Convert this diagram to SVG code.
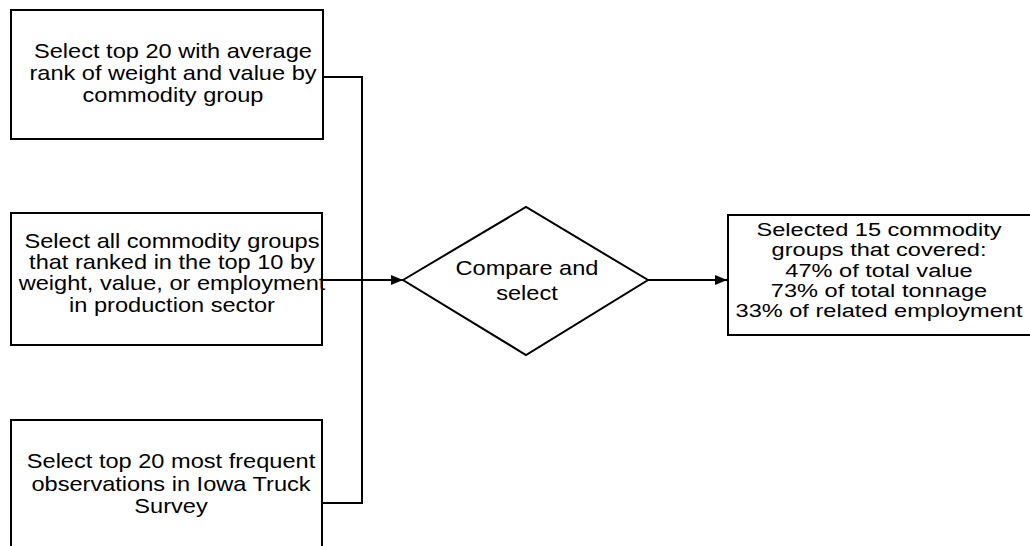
<svg xmlns="http://www.w3.org/2000/svg" width="1030" height="546" viewBox="0 0 1030 546">
<style>
.box{fill:#fff;stroke:#000;stroke-width:2}
.t{font-family:"Liberation Sans",Arial,sans-serif;font-size:20px;fill:#000;text-anchor:middle}
.s{font-size:18px}
.c{fill:none;stroke:#000;stroke-width:2}
</style>
<defs>
<marker id="ah" viewBox="0 0 12 10" refX="12" refY="5" markerWidth="12" markerHeight="10" markerUnits="userSpaceOnUse" orient="auto">
<path d="M0,0 L12,5 L0,10 Z" fill="#000"/>
</marker>
</defs>
<rect width="1030" height="546" fill="#fff"/>
<g id="connectors">
<polyline class="c" points="323,77 362,77 362,503 323,503"/>
<line class="c" x1="323" y1="280" x2="403" y2="280" marker-end="url(#ah)"/>
<line class="c" x1="648" y1="280" x2="727" y2="280" marker-end="url(#ah)"/>
</g>
<g id="box1">
<rect class="box" x="11" y="10" width="312" height="129"/>
<g transform="translate(173,0) scale(1.18,1)">
<text class="t" x="0" y="58">Select top 20 with average</text>
<text class="t" x="0" y="80">rank of weight and value by</text>
<text class="t" x="0" y="102">commodity group</text>
</g>
</g>
<g id="box2">
<rect class="box" x="11" y="213" width="311" height="132"/>
<g transform="translate(172,0) scale(1.18,1)">
<text class="t" x="0" y="248">Select all commodity groups</text>
<text class="t" x="0" y="269">that ranked in the top 10 by</text>
<text class="t" x="0" y="290">weight, value, or employment</text>
<text class="t" x="0" y="312">in production sector</text>
</g>
</g>
<g id="box3">
<rect class="box" x="11" y="420" width="311" height="140"/>
<g transform="translate(171,0) scale(1.18,1)">
<text class="t" x="0" y="468">Select top 20 most frequent</text>
<text class="t" x="0" y="491">observations in Iowa Truck</text>
<text class="t" x="0" y="513">Survey</text>
</g>
</g>
<g id="diamond">
<polygon class="box" points="403,280 526,207 648,280 526,355"/>
<g transform="translate(527,0) scale(1.18,1)">
<text class="t" x="0" y="275">Compare and</text>
<text class="t" x="0" y="300">select</text>
</g>
</g>
<g id="result">
<rect class="box" x="728" y="215" width="320" height="120"/>
<g transform="translate(879,0) scale(1.31,1)">
<text class="t s" x="0" y="236">Selected 15 commodity</text>
<text class="t s" x="0" y="256">groups that covered:</text>
<text class="t s" x="0" y="277">47% of total value</text>
<text class="t s" x="0" y="297">73% of total tonnage</text>
<text class="t s" x="0" y="317">33% of related employment</text>
</g>
</g>
</svg>
